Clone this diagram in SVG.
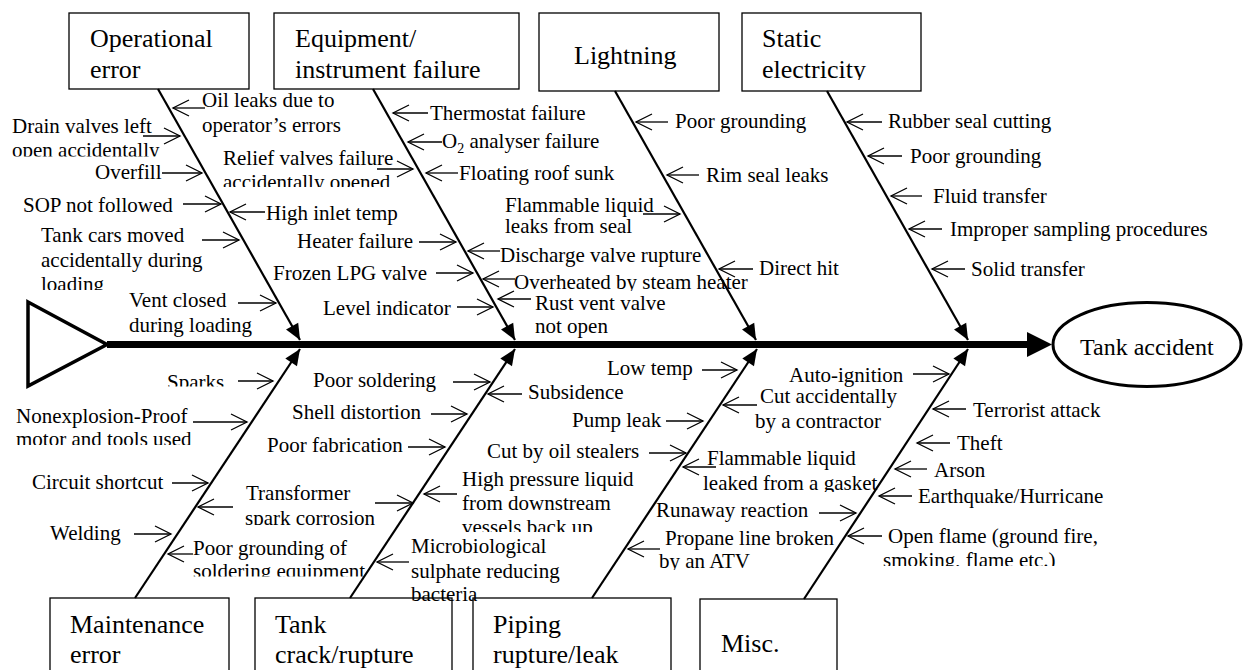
<svg xmlns="http://www.w3.org/2000/svg" width="1244" height="670" viewBox="0 0 1244 670">
<style>
text{font-family:'Liberation Serif','Times New Roman',serif;fill:#000}
.bl{font-size:26px}
.sl{font-size:21px}
.box{fill:#fff;stroke:#000;stroke-width:1.3}
.bone{stroke:#000;stroke-width:2.2;fill:none;marker-end:url(#fill)}
.sub{stroke:#000;stroke-width:1.3;fill:none;marker-end:url(#open)}
</style>
<defs>
<marker id="fill" markerUnits="userSpaceOnUse" markerWidth="18" markerHeight="16" refX="16" refY="7" orient="auto" overflow="visible"><path d="M0,0 L16,7 L0,14 z" fill="#000"/></marker>
<marker id="open" markerUnits="userSpaceOnUse" markerWidth="18" markerHeight="18" refX="16" refY="8" orient="auto" overflow="visible"><path d="M0,0 L16,8 L0,16" fill="none" stroke="#000" stroke-width="1.3"/></marker>
<clipPath id="cDrain"><rect x="0" y="0" width="1244" height="156.5"/></clipPath>
<clipPath id="cRelief"><rect x="0" y="0" width="1244" height="187"/></clipPath>
<clipPath id="cTankCars"><rect x="0" y="0" width="1244" height="290"/></clipPath>
<clipPath id="cElec"><rect x="0" y="0" width="1244" height="80"/></clipPath>
<clipPath id="cOverheat"><rect x="0" y="0" width="1244" height="291"/></clipPath>
<clipPath id="cSparks"><rect x="0" y="0" width="1244" height="386.5"/></clipPath>
<clipPath id="cMotor"><rect x="0" y="0" width="1244" height="445"/></clipPath>
<clipPath id="cTrans"><rect x="0" y="0" width="1244" height="525"/></clipPath>
<clipPath id="cSolder"><rect x="0" y="0" width="1244" height="576.5"/></clipPath>
<clipPath id="cVessels"><rect x="0" y="0" width="1244" height="532"/></clipPath>
<clipPath id="cSmoking"><rect x="0" y="0" width="1244" height="566"/></clipPath>
<clipPath id="cATV"><rect x="0" y="0" width="1244" height="570"/></clipPath>
<clipPath id="cGasket"><rect x="0" y="0" width="1244" height="492"/></clipPath>
</defs>
<rect width="1244" height="670" fill="#fff"/>

<g id="node-operational"><rect class="box" x="69" y="13" width="180" height="76"/><text class="bl" x="90" y="47">Operational</text><text class="bl" x="90" y="78">error</text></g>
<g id="node-equipment"><rect class="box" x="274" y="13" width="245" height="76"/><text class="bl" x="295" y="47">Equipment/</text><text class="bl" x="295" y="78">instrument failure</text></g>
<g id="node-lightning"><rect class="box" x="539" y="13" width="180" height="78"/><text class="bl" x="574" y="64">Lightning</text></g>
<g id="node-static"><rect class="box" x="742" y="13" width="179" height="78"/><text class="bl" x="762" y="47">Static</text><text class="bl" x="762" y="78" clip-path="url(#cElec)">electricity</text></g>
<g id="node-maintenance"><rect class="box" x="50" y="598" width="179" height="80"/><text class="bl" x="70" y="633">Maintenance</text><text class="bl" x="70" y="663">error</text></g>
<g id="node-tank"><rect class="box" x="255" y="598" width="197" height="80"/><text class="bl" x="275" y="633">Tank</text><text class="bl" x="275" y="663">crack/rupture</text></g>
<g id="node-piping"><rect class="box" x="473" y="598" width="198" height="80"/><text class="bl" x="493" y="633">Piping</text><text class="bl" x="493" y="663">rupture/leak</text></g>
<g id="node-misc"><rect class="box" x="700" y="599" width="137" height="80"/><text class="bl" x="721" y="652">Misc.</text></g>
<g id="node-head"><polygon points="28,302 107,344.5 28,386" fill="none" stroke="#000" stroke-width="3.5" stroke-linejoin="miter"/></g>
<g id="node-result"><ellipse cx="1147" cy="344.5" rx="94" ry="42" fill="#fff" stroke="#000" stroke-width="3"/><text x="1080" y="355" style="font-size:24px">Tank accident</text></g>

<g id="connectors">
<line x1="107" y1="344.5" x2="1029" y2="344.5" stroke="#000" stroke-width="7"/>
<polygon points="1027,332 1052,344.5 1027,357" fill="#000"/>
<line class="bone" x1="158" y1="89" x2="300" y2="340"/>
<line class="bone" x1="373" y1="89" x2="515" y2="340"/>
<line class="bone" x1="615" y1="91" x2="756" y2="340"/>
<line class="bone" x1="827" y1="91" x2="968" y2="340"/>
<line class="bone" x1="135" y1="598" x2="300" y2="349"/>
<line class="bone" x1="350" y1="598" x2="515" y2="349"/>
<line class="bone" x1="592" y1="598" x2="757" y2="349"/>
<line class="bone" x1="804" y1="599" x2="968" y2="349"/>
<path class="sub" d="M205,108H173"/>
<path class="sub" d="M143,136H180"/>
<path class="sub" d="M162,173H202"/>
<path class="sub" d="M183,204H221"/>
<path class="sub" d="M265,212H230"/>
<path class="sub" d="M202,240H239"/>
<path class="sub" d="M238,303H276"/>
<path class="sub" d="M428,113H393"/>
<path class="sub" d="M442,142H408"/>
<path class="sub" d="M377,169H413"/>
<path class="sub" d="M458,173H426"/>
<path class="sub" d="M419,242H456"/>
<path class="sub" d="M500,251H468"/>
<path class="sub" d="M436,273H473"/>
<path class="sub" d="M515,279H483"/>
<path class="sub" d="M457,307H493"/>
<path class="sub" d="M531,299H498"/>
<path class="sub" d="M668,122H636"/>
<path class="sub" d="M699,175H667"/>
<path class="sub" d="M643,214H680"/>
<path class="sub" d="M753,269H719"/>
<path class="sub" d="M882,122H847"/>
<path class="sub" d="M902,156H868"/>
<path class="sub" d="M922,196H891"/>
<path class="sub" d="M942,229H909"/>
<path class="sub" d="M965,269H932"/>
<path class="sub" d="M238,381H273"/>
<path class="sub" d="M193,422H247"/>
<path class="sub" d="M172,483H208"/>
<path class="sub" d="M233,507H198"/>
<path class="sub" d="M134,534H171"/>
<path class="sub" d="M193,554H168"/>
<path class="sub" d="M453,382H490"/>
<path class="sub" d="M522,394H488"/>
<path class="sub" d="M431,414H467"/>
<path class="sub" d="M408,447H445"/>
<path class="sub" d="M457,494H424"/>
<path class="sub" d="M375,503H413"/>
<path class="sub" d="M409,562H377"/>
<path class="sub" d="M702,370H737"/>
<path class="sub" d="M757,405H723"/>
<path class="sub" d="M666,421H703"/>
<path class="sub" d="M649,453H686"/>
<path class="sub" d="M716,467H683"/>
<path class="sub" d="M660,549H628"/>
<path class="sub" d="M819,513H856"/>
<path class="sub" d="M913,374H949"/>
<path class="sub" d="M966,409H933"/>
<path class="sub" d="M950,443H917"/>
<path class="sub" d="M927,469H895"/>
<path class="sub" d="M912,496H879"/>
<path class="sub" d="M882,536H848"/>
</g>

<g id="causes-operational" class="sl">
<text class="sl" x="202" y="107">Oil leaks due to<tspan x="202" y="132">operator’s errors</tspan></text>
<text class="sl" x="12" y="133" clip-path="url(#cDrain)">Drain valves left<tspan x="12" y="157">open accidentally</tspan></text>
<text class="sl" x="95" y="179">Overfill</text>
<text class="sl" x="23" y="212">SOP not followed</text>
<text class="sl" x="266" y="220">High inlet temp</text>
<text class="sl" x="41" y="242" clip-path="url(#cTankCars)">Tank cars moved<tspan x="41" y="266.5">accidentally during</tspan><tspan x="41" y="291">loading</tspan></text>
<text class="sl" x="129" y="307">Vent closed<tspan x="129" y="332">during loading</tspan></text>
</g>
<g id="causes-equipment">
<text class="sl" x="430" y="120">Thermostat failure</text>
<text class="sl" x="442" y="148">O<tspan style="font-size:14px" dy="5">2</tspan><tspan dy="-5"> analyser failure</tspan></text>
<text class="sl" x="223" y="165" clip-path="url(#cRelief)">Relief valves failure<tspan x="223" y="189">accidentally opened</tspan></text>
<text class="sl" x="459" y="180">Floating roof sunk</text>
<text class="sl" x="297" y="248">Heater failure</text>
<text class="sl" x="500" y="262">Discharge valve rupture</text>
<text class="sl" x="273" y="280">Frozen LPG valve</text>
<text class="sl" x="514" y="289" clip-path="url(#cOverheat)">Overheated by steam heater</text>
<text class="sl" x="323" y="315">Level indicator</text>
<text class="sl" x="535" y="310">Rust vent valve<tspan x="535" y="333">not open</tspan></text>
</g>
<g id="causes-lightning">
<text class="sl" x="675" y="128">Poor grounding</text>
<text class="sl" x="706" y="182">Rim seal leaks</text>
<text class="sl" x="505" y="212">Flammable liquid<tspan x="505" y="233">leaks from seal</tspan></text>
<text class="sl" x="759" y="275">Direct hit</text>
</g>
<g id="causes-static">
<text class="sl" x="888" y="128">Rubber seal cutting</text>
<text class="sl" x="910" y="163">Poor grounding</text>
<text class="sl" x="933" y="203">Fluid transfer</text>
<text class="sl" x="950" y="236">Improper sampling procedures</text>
<text class="sl" x="971" y="276">Solid transfer</text>
</g>
<g id="causes-maintenance">
<text class="sl" x="167" y="389" clip-path="url(#cSparks)">Sparks</text>
<text class="sl" x="16" y="423" clip-path="url(#cMotor)">Nonexplosion-Proof<tspan x="16" y="446">motor and tools used</tspan></text>
<text class="sl" x="32" y="489">Circuit shortcut</text>
<text class="sl" x="246" y="500" clip-path="url(#cTrans)">Transformer<tspan x="245" y="525">spark corrosion</tspan></text>
<text class="sl" x="50" y="540">Welding</text>
<text class="sl" x="193" y="555" clip-path="url(#cSolder)">Poor grounding of<tspan x="193" y="578">soldering equipment</tspan></text>
</g>
<g id="causes-tank">
<text class="sl" x="313" y="387">Poor soldering</text>
<text class="sl" x="528" y="399">Subsidence</text>
<text class="sl" x="292" y="419">Shell distortion</text>
<text class="sl" x="267" y="452">Poor fabrication</text>
<text class="sl" x="462" y="486" clip-path="url(#cVessels)">High pressure liquid<tspan x="462" y="510">from downstream</tspan><tspan x="462" y="534">vessels back up</tspan></text>
<text class="sl" x="411" y="553">Microbiological<tspan x="411" y="578">sulphate reducing</tspan><tspan x="411" y="601">bacteria</tspan></text>
</g>
<g id="causes-piping">
<text class="sl" x="607" y="375">Low temp</text>
<text class="sl" x="760" y="403">Cut accidentally<tspan x="755" y="428">by a contractor</tspan></text>
<text class="sl" x="572" y="427">Pump leak</text>
<text class="sl" x="487" y="458">Cut by oil stealers</text>
<text class="sl" x="707" y="465" clip-path="url(#cGasket)">Flammable liquid<tspan x="703" y="490">leaked from a gasket</tspan></text>
<text class="sl" x="665" y="545" clip-path="url(#cATV)">Propane line broken<tspan x="659" y="568">by an ATV</tspan></text>
</g>
<g id="causes-misc">
<text class="sl" x="789" y="382">Auto-ignition</text>
<text class="sl" x="656" y="517">Runaway reaction</text>
<text class="sl" x="973" y="417">Terrorist attack</text>
<text class="sl" x="957" y="450">Theft</text>
<text class="sl" x="934" y="477">Arson</text>
<text class="sl" x="918" y="503">Earthquake/Hurricane</text>
<text class="sl" x="888" y="543" clip-path="url(#cSmoking)">Open flame (ground fire,<tspan x="883" y="567">smoking, flame etc.)</tspan></text>
</g>
</svg>
